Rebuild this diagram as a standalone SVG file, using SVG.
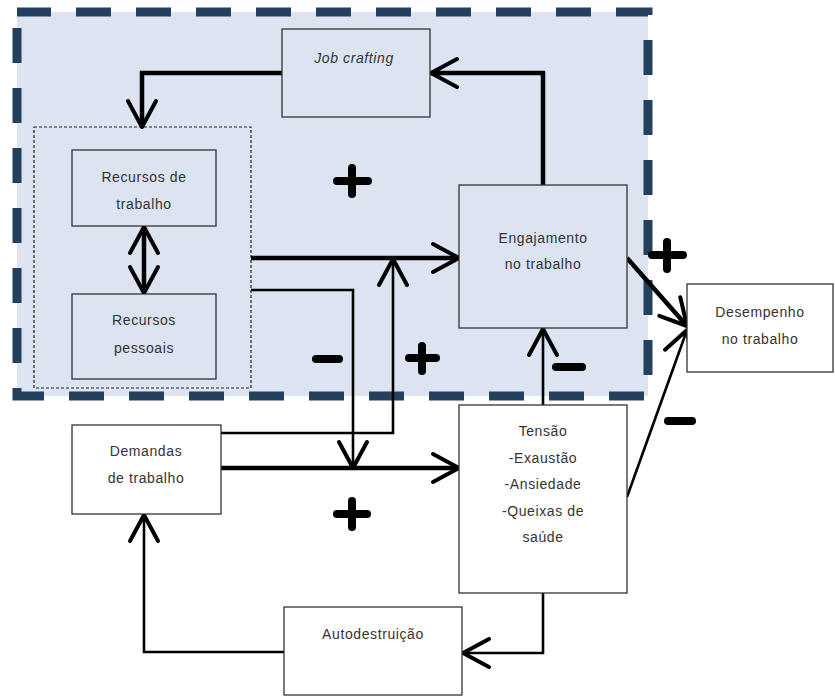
<svg xmlns="http://www.w3.org/2000/svg" width="835" height="698" viewBox="0 0 835 698">
<style>
.box{stroke:#333;stroke-width:1.3}
.in{fill:#dbe4f0}
.out{fill:#fff}
.t{font-family:"Liberation Sans",Arial,sans-serif;font-size:14px;fill:#333;text-anchor:middle;letter-spacing:0.6px}
.it{font-style:italic}
.thick{stroke:#000;stroke-width:4.5;fill:none}
.thin{stroke:#000;stroke-width:2.6;fill:none}
.sign{stroke:#000;stroke-width:8;stroke-linecap:round;fill:none}
</style>
<defs>
<marker id="head" viewBox="-30 -17 34 34" markerWidth="34" markerHeight="34" refX="0" refY="0" markerUnits="userSpaceOnUse" orient="auto-start-reverse" overflow="visible">
<path d="M -26 -14 L 0 0 L -26 14" fill="none" stroke="#000" stroke-width="4" stroke-linecap="round" stroke-linejoin="round"/>
</marker>
</defs>
<rect x="0" y="0" width="835" height="698" fill="#fff"/>
<g id="region">
<rect x="17" y="12" width="631" height="384" fill="#dbe4f0" stroke="#24405f" stroke-width="9" stroke-dasharray="35 25" stroke-dashoffset="1"/>
<rect x="34" y="127" width="217" height="261" fill="none" stroke="#222" stroke-width="1.2" stroke-dasharray="3 2"/>
</g>
<g id="connectors">
<polyline class="thick" points="282,73 142,73 142,127" marker-end="url(#head)"/>
<polyline class="thick" points="543,185 543,73 431,73" marker-end="url(#head)"/>
<line class="thick" x1="144" y1="227" x2="144" y2="293" marker-start="url(#head)" marker-end="url(#head)"/>
<line class="thick" x1="251" y1="258" x2="459" y2="258" marker-end="url(#head)"/>
<polyline class="thin" points="251,290 353,290 353,468" marker-end="url(#head)"/>
<polyline class="thin" points="221,433 393,433 393,259" marker-end="url(#head)"/>
<line class="thick" x1="221" y1="468" x2="459" y2="468" marker-end="url(#head)"/>
<line class="thin" x1="543" y1="405" x2="543" y2="329" marker-end="url(#head)"/>
<line class="thick" x1="627" y1="258" x2="687" y2="326" marker-end="url(#head)"/>
<line class="thin" x1="627" y1="497" x2="687" y2="330" marker-end="url(#head)"/>
<polyline class="thin" points="543,593 543,653 463,653" marker-end="url(#head)"/>
<polyline class="thin" points="284,652 144,652 144,515" marker-end="url(#head)"/>
</g>
<g id="signs">
<path class="sign" d="M337 181 H368 M352 168 V194"/>
<path class="sign" d="M316 359 H339"/>
<path class="sign" d="M409 358 H436 M422 346 V371"/>
<path class="sign" d="M556 367 H582"/>
<path class="sign" d="M652 255 H683 M667 242 V269"/>
<path class="sign" d="M668 421 H692"/>
<path class="sign" d="M337 514 H367 M352 501 V527"/>
</g>
<g id="job-crafting">
<rect class="box in" x="282" y="29" width="148" height="88"/>
<text class="t it" x="354" y="63">Job crafting</text>
</g>
<g id="recursos-trabalho">
<rect class="box in" x="72" y="150" width="144" height="76"/>
<text class="t" x="144" y="182">Recursos de</text>
<text class="t" x="144" y="209">trabalho</text>
</g>
<g id="recursos-pessoais">
<rect class="box in" x="72" y="294" width="144" height="85"/>
<text class="t" x="144" y="325">Recursos</text>
<text class="t" x="144" y="353">pessoais</text>
</g>
<g id="engajamento">
<rect class="box in" x="459" y="185" width="168" height="143"/>
<text class="t" x="543" y="243">Engajamento</text>
<text class="t" x="543" y="269">no trabalho</text>
</g>
<g id="desempenho">
<rect class="box out" x="687" y="284" width="146" height="88"/>
<text class="t" x="760" y="317">Desempenho</text>
<text class="t" x="760" y="344">no trabalho</text>
</g>
<g id="demandas">
<rect class="box out" x="72" y="425" width="149" height="89"/>
<text class="t" x="146" y="456">Demandas</text>
<text class="t" x="146" y="483">de trabalho</text>
</g>
<g id="tensao">
<rect class="box out" x="459" y="405" width="168" height="188"/>
<text class="t" x="543" y="436">Tensão</text>
<text class="t" x="543" y="463">-Exaustão</text>
<text class="t" x="543" y="489">-Ansiedade</text>
<text class="t" x="543" y="516">-Queixas de</text>
<text class="t" x="543" y="542">saúde</text>
</g>
<g id="autodestruicao">
<rect class="box out" x="284" y="607" width="178" height="88"/>
<text class="t" x="373" y="639">Autodestruição</text>
</g>
</svg>
